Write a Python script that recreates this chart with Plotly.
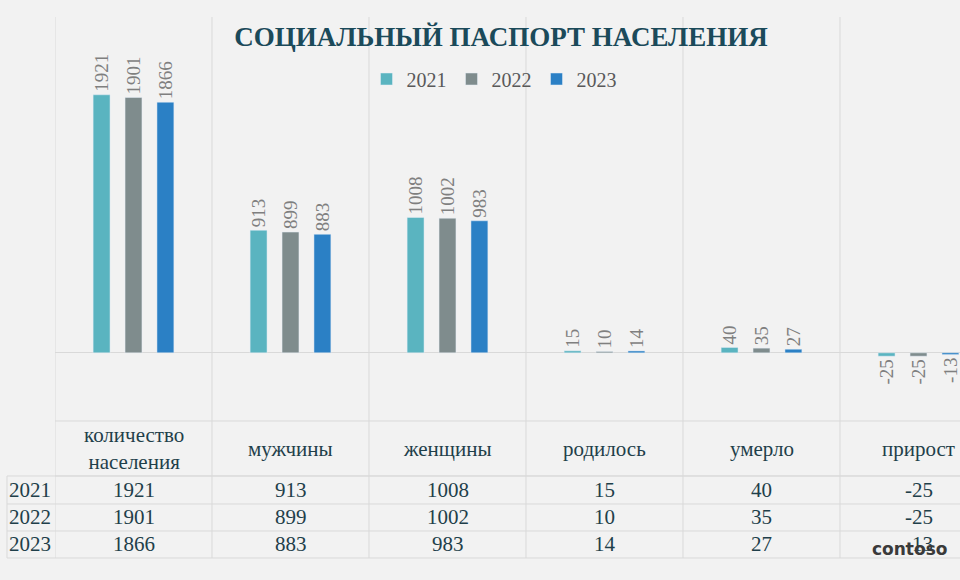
import plotly.graph_objects as go

# данные
categories = ["количество населения", "мужчины", "женщины", "родилось", "умерло", "прирост"]
years = ["2021", "2022", "2023"]
values_2021 = [1921, 913, 1008, 15, 40, -25]
values_2022 = [1901, 899, 1002, 10, 35, -25]
values_2023 = [1866, 883, 983, 14, 27, -13]
series = [values_2021, values_2022, values_2023]
colors = ["#5ab4c0", "#7f8c8d", "#2b80c5"]

W, H = 960, 580
L, T, B = 55, 17, 420  # plot area in pixels
col_w = 157

serif = "Liberation Serif"
text_dark = "#1f3f4a"
grid = "#d9d9d9"


def py(p):
    # pixel row -> paper y
    return (B - p) / (B - T)


def px_(p):
    # pixel column -> paper x
    return (p - L) / (W - L)


fig = go.Figure()
for yr, vals, c in zip(years, series, colors):
    fig.add_trace(go.Bar(
        name=yr, x=categories, y=vals, marker_color=c,
        text=vals, textposition="outside", textangle=-90,
        constraintext="none",
        textfont=dict(family=serif, size=19, color="#7f7f7f"),
        cliponaxis=False,
    ))

# шапка таблицы
for cat in categories:
    fig.add_annotation(x=cat, xref="x", y=py(449), yref="paper",
                       xanchor="center", yanchor="middle",
                       text=cat.replace(" ", "<br>"), showarrow=False,
                       font=dict(family=serif, size=21, color=text_dark))

# строки таблицы
row_centers = [490, 517, 544]
for yr, vals, rc in zip(years, series, row_centers):
    fig.add_annotation(x=px_(30), xref="paper", y=py(rc), yref="paper",
                       xanchor="center", yanchor="middle",
                       text=yr, showarrow=False,
                       font=dict(family=serif, size=21, color=text_dark))
    for cat, v in zip(categories, vals):
        fig.add_annotation(x=cat, xref="x", y=py(rc), yref="paper",
                           xanchor="center", yanchor="middle",
                           text=str(v), showarrow=False,
                           font=dict(family=serif, size=21, color=text_dark))

# линии таблицы
shapes = []
for i in range(len(categories)):
    shapes.append(dict(type="line", xref="x", yref="paper",
                       x0=i - 0.5, x1=i - 0.5, y0=py(T), y1=py(558),
                       line=dict(color=grid, width=1)))
for yl in [421, 476]:
    shapes.append(dict(type="line", xref="paper", yref="paper",
                       x0=0, x1=1, y0=py(yl), y1=py(yl),
                       line=dict(color=grid, width=1)))
for yl in [476, 504, 531, 558]:
    shapes.append(dict(type="line", xref="paper", yref="paper",
                       x0=px_(7), x1=1, y0=py(yl), y1=py(yl),
                       line=dict(color=grid, width=1)))
shapes.append(dict(type="line", xref="paper", yref="paper",
                   x0=px_(7), x1=px_(7), y0=py(476), y1=py(558),
                   line=dict(color=grid, width=1)))

# логотип
fig.add_annotation(x=px_(909), xref="paper", y=py(549), yref="paper",
                   xanchor="center", yanchor="middle",
                   text="<b>contoso</b>", showarrow=False,
                   font=dict(family="DejaVu Sans", size=17, color="#3a3a3a"))

fig.update_layout(
    width=W, height=H,
    paper_bgcolor="#f2f2f2", plot_bgcolor="#f2f2f2",
    margin=dict(l=L, r=0, t=T, b=H - B),
    barmode="group", bargap=0.39, bargroupgap=0.47,
    title=dict(text="<b>СОЦИАЛЬНЫЙ ПАСПОРТ НАСЕЛЕНИЯ</b>",
               x=501 / W, xanchor="center", y=1 - 37 / H, yanchor="middle",
               font=dict(family=serif, size=27, color="#1b4a5a")),
    legend=dict(orientation="h", x=px_(494), xanchor="center",
                y=py(79), yanchor="middle", bgcolor="rgba(0,0,0,0)",
                font=dict(family=serif, size=20, color="#595959"),
                itemwidth=30),
    xaxis=dict(range=[-0.5, -0.5 + (W - L) / col_w], showgrid=False,
               showticklabels=False, ticks="", showline=False, zeroline=False),
    yaxis=dict(range=[-500, 2500], showgrid=False, showticklabels=False,
               zeroline=True, zerolinecolor=grid, zerolinewidth=1, showline=False),
    shapes=shapes,
    showlegend=True,
)

fig.write_html("out.html", config={"displayModeBar": False},
               post_script="document.body.style.margin='0px';")
